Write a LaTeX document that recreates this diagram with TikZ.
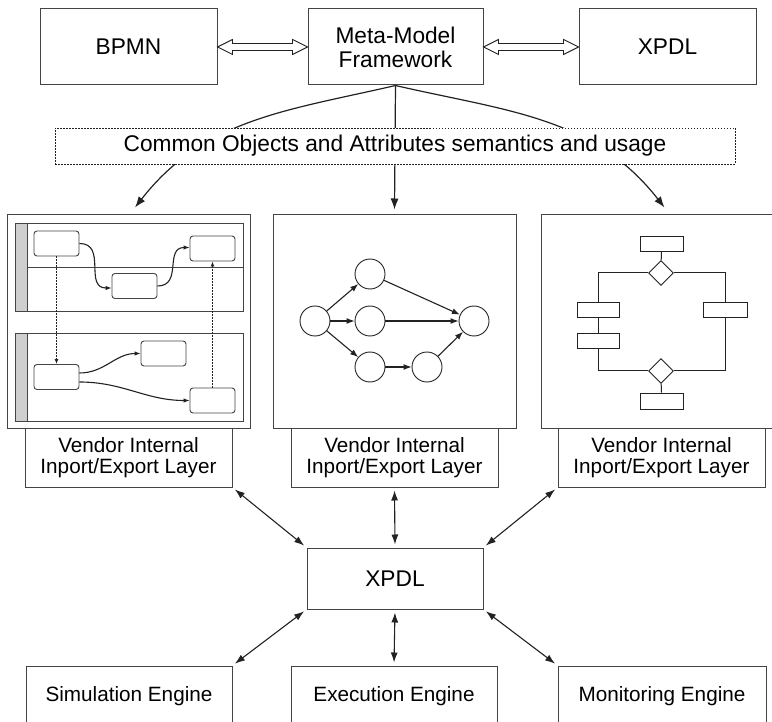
\documentclass[tikz,border=0pt]{standalone}
\usepackage{fontspec}
\setmainfont{Liberation Sans}
\usetikzlibrary{arrows.meta,calc,shapes.geometric}

\definecolor{ink}{HTML}{222222}
\definecolor{edge}{HTML}{444444}
\definecolor{poolbar}{HTML}{CFCFCF}

% open double-headed arrow between two side-by-side boxes
\newcommand\hollowlink[2]{%
  \draw[draw=ink,line width=0.9pt,fill=white,line join=miter]
    let \p1=(#1.east), \p2=(#2.west) in
    (\x1,\y1) -- (\x1+15pt,\y1+7.5pt) -- (\x1+15pt,\y1+3.5pt) --
    (\x2-15pt,\y1+3.5pt) -- (\x2-15pt,\y1+7.5pt) -- (\x2,\y1) --
    (\x2-15pt,\y1-7.5pt) -- (\x2-15pt,\y1-3.5pt) --
    (\x1+15pt,\y1-3.5pt) -- (\x1+15pt,\y1-7.5pt) -- cycle;}

\begin{document}
\begin{tikzpicture}[x=1pt,y=-1pt,
  box/.style={draw=edge,line width=1pt,fill=white,inner sep=0pt,align=center},
  bigtxt/.style={font=\fontsize{22.7}{24}\selectfont},
  smalltxt/.style={font=\fontsize{20.7}{21.5}\selectfont},
  link/.style={draw=ink,line width=1.1pt,
    {Latex[length=10pt,width=7pt]}-{Latex[length=10pt,width=7pt]},
    shorten <=3pt,shorten >=3pt},
  arc/.style={draw=ink,line width=1.2pt,-{Latex[length=11pt,width=8pt]}},
  pool/.style={draw=edge,line width=0.9pt,inner sep=0pt,minimum width=228pt,minimum height=88pt},
  bar/.style={draw=edge,line width=0.9pt,fill=poolbar,inner sep=0pt,minimum width=12pt,minimum height=88pt},
  task/.style={draw=edge,line width=0.9pt,fill=white,rounded corners=3pt,inner sep=0pt,minimum width=45pt,minimum height=25pt},
  flow/.style={draw=ink,line width=1.1pt,-{Latex[length=6pt,width=4.5pt]}},
  flowdot/.style={draw=ink,line width=0.9pt,dash pattern=on 1.5pt off 1.5pt,-{Latex[length=5pt,width=4pt]}},
  state/.style={draw=ink,line width=0.9pt,circle,minimum size=30pt,inner sep=0pt},
  net/.style={draw=ink,line width=1.1pt,-{Latex[length=8pt,width=6pt]}},
  fcbox/.style={draw=ink,line width=0.9pt,fill=white,inner sep=0pt,minimum height=15pt},
  gate/.style={draw=ink,line width=0.9pt,fill=white,diamond,inner sep=0pt,minimum size=25pt},
  fc/.style={draw=ink,line width=1pt}]
\useasboundingbox (0,0) rectangle (772,722);
\clip (0,0) rectangle (772,722);

% --- top row ---
\node[box,bigtxt,minimum width=177pt,minimum height=76pt] (bpmn) at (128.5,47) {BPMN};
\node[box,bigtxt,minimum width=175pt,minimum height=76pt] (meta) at (395.5,47) {Meta-Model\\Framework};
\node[box,bigtxt,minimum width=177pt,minimum height=76pt] (xtop) at (667.5,47) {XPDL};
\hollowlink{bpmn}{meta}
\hollowlink{meta}{xtop}

% --- three tool panels ---
\node[box,minimum width=243pt,minimum height=213pt] (lp) at (128.5,321.5) {};
\node[box,minimum width=243pt,minimum height=213pt] (mp) at (394.5,321.5) {};
\node[box,minimum width=243pt,minimum height=213pt] (rp) at (662.5,321.5) {};

% --- distribution from the meta-model ---
\draw[arc] (meta.south) to[out=193,in=52] ([xshift=6.5pt,yshift=7pt]lp.north);
\draw[arc] (meta.south) -- ([yshift=5pt]mp.north);
\draw[arc] (meta.south) to[out=-13,in=128] ([xshift=2pt,yshift=7pt]rp.north);

\node[draw=ink,line width=0.8pt,dash pattern=on 1.5pt off 1.5pt,fill=white,inner sep=0pt,
  minimum width=680pt,minimum height=36pt,bigtxt] (common) at (395,146)
  {Common Objects and Attributes semantics and usage};

% --- swimlane diagram ---
\node[pool] (pool1) at (129,267) {};
\node[bar,anchor=west] (bar1) at (pool1.west) {};
\draw[draw=edge,line width=0.9pt] (bar1.east) -- (pool1.east);
\node[pool] (pool2) at (129,377) {};
\node[bar,anchor=west] (bar2) at (pool2.west) {};

\node[task] (ta) at (56.5,243.5) {};
\node[task] (tb) at (134.5,286) {};
\node[task] (tc) at (212.5,248.5) {};
\node[task] (td) at (56.5,377) {};
\node[task] (te) at (163.5,353.5) {};
\node[task] (tf) at (212.5,400.5) {};

\draw[flow] (ta.east) to[out=0,in=180,looseness=1.3] ([yshift=-2pt]tb.west);
\draw[flow] (tb.east) to[out=0,in=180,looseness=1.3] ([yshift=1pt]tc.west);
\draw[flow] ([yshift=4pt]td.east) to[out=0,in=180] (te.west);
\draw[flow] ([yshift=-5pt]td.east) to[out=0,in=180] (tf.west);
\draw[flowdot] (ta.south) -- (td.north);
\draw[flowdot] (tf.north) -- (tc.south);

% --- network diagram ---
\node[state] (c1) at (315,321) {};
\node[state] (c2) at (370,274) {};
\node[state] (c3) at (370,321) {};
\node[state] (c4) at (370,367) {};
\node[state] (c5) at (427,367) {};
\node[state] (c6) at (474,321) {};
\draw[net] (c1) -- (c2);
\draw[net] (c1) -- (c3);
\draw[net] (c1) -- (c4);
\draw[net] (c2) -- (c6);
\draw[net] (c3) -- (c6);
\draw[net] (c4) -- (c5);
\draw[net] (c5) -- (c6);

% --- flowchart ---
\node[fcbox,minimum width=43pt] (ftop) at (661.5,243.5) {};
\node[gate] (gtop) at (661,273) {};
\node[fcbox,minimum width=42pt] (fl1) at (598,309.5) {};
\node[fcbox,minimum width=42pt] (fl2) at (598,340.5) {};
\node[fcbox,minimum width=44pt] (fr) at (725,309.5) {};
\node[gate] (gbot) at (661,371) {};
\node[fcbox,minimum width=43pt,minimum height=16pt] (fbot) at (661.5,401) {};
\draw[fc] (ftop) -- (gtop);
\draw[fc] (gtop.west) -| (fl1.north);
\draw[fc] (fl1) -- (fl2);
\draw[fc] (fl2.south) |- (gbot.west);
\draw[fc] (gtop.east) -| (fr.north);
\draw[fc] (fr.south) |- (gbot.east);
\draw[fc] (gbot) -- (fbot);

% --- import/export layers ---
\node[box,smalltxt,minimum width=207pt,minimum height=59pt] (vl) at (128.5,457.5) {Vendor Internal\\Inport/Export Layer};
\node[box,smalltxt,minimum width=207pt,minimum height=59pt] (vm) at (394.5,457.5) {Vendor Internal\\Inport/Export Layer};
\node[box,smalltxt,minimum width=207pt,minimum height=59pt] (vr) at (661.5,457.5) {Vendor Internal\\Inport/Export Layer};

% --- central XPDL and engines ---
\node[box,bigtxt,minimum width=176pt,minimum height=61pt] (xb) at (395,578.5) {XPDL};
\node[box,smalltxt,minimum width=206pt,minimum height=60pt] (sim) at (129,696) {Simulation Engine};
\node[box,smalltxt,minimum width=206pt,minimum height=60pt] (exe) at (394,696) {Execution Engine};
\node[box,smalltxt,minimum width=208pt,minimum height=60pt] (mon) at (662,696) {Monitoring Engine};

\draw[link] (vl.south east) -- (xb.north west);
\draw[link] (vm.south) -- (xb.north);
\draw[link] (vr.south west) -- (xb.north east);
\draw[link] (xb.south west) -- (sim.north east);
\draw[link] (xb.south) -- (exe.north);
\draw[link] (xb.south east) -- (mon.north west);
\end{tikzpicture}
\end{document}
